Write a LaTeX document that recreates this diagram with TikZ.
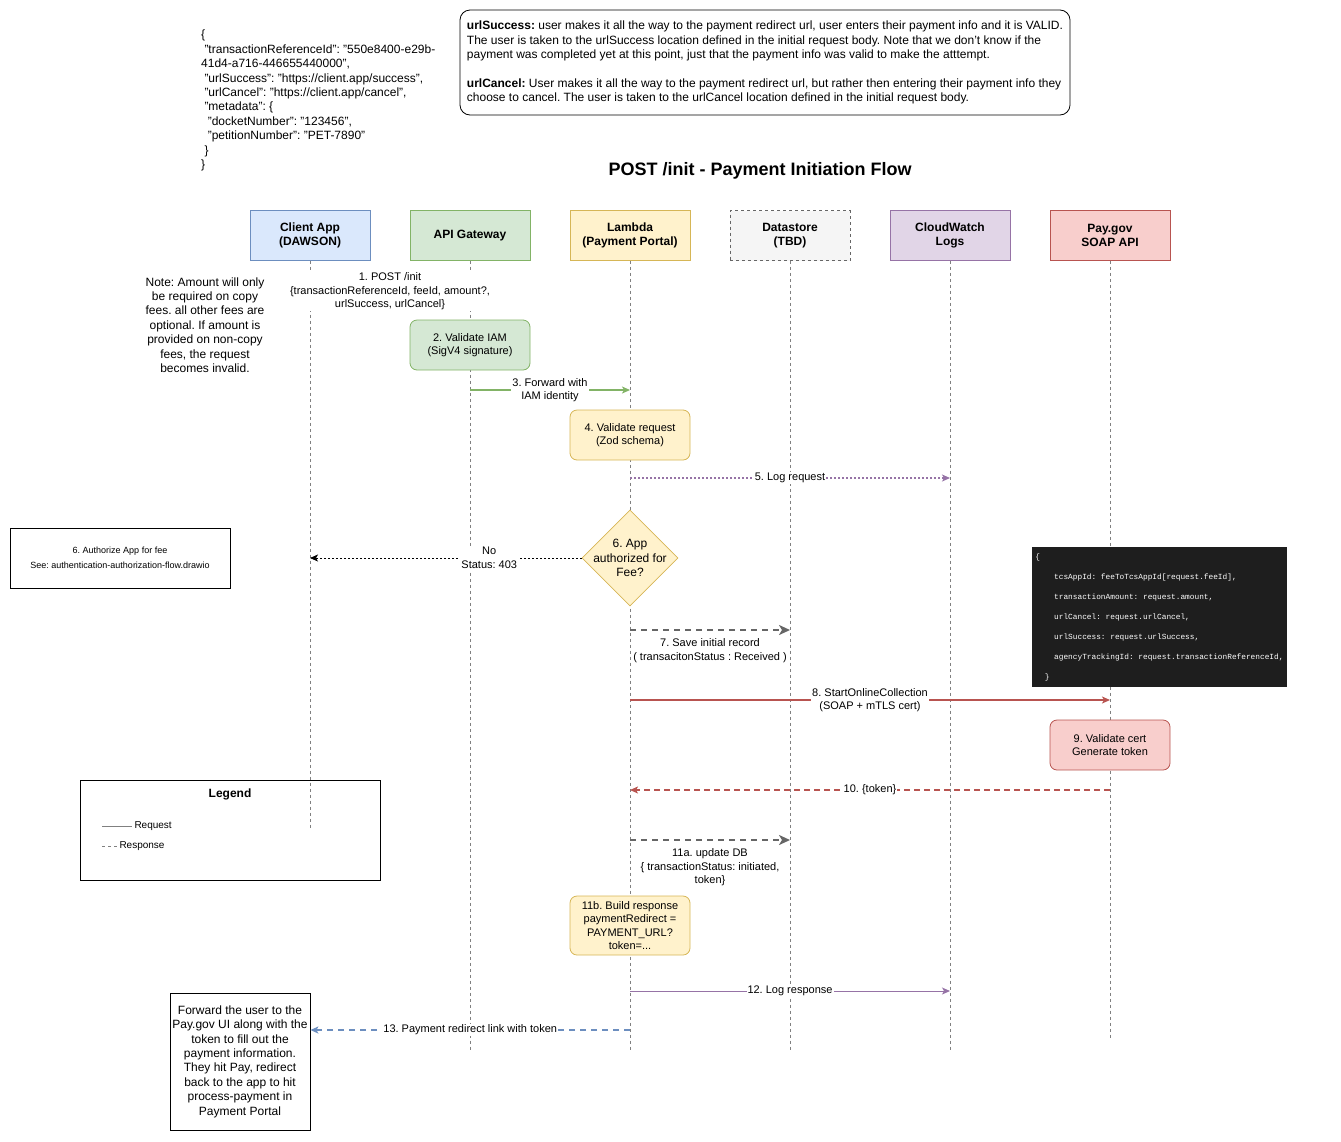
\documentclass[tikz,border=0pt]{standalone}
\usepackage{fontspec}
\setmainfont{Liberation Sans}
\setmonofont{Liberation Mono}
\usepackage{xcolor}
\usetikzlibrary{shapes.geometric,arrows.meta,positioning,calc}

\definecolor{clientF}{HTML}{DAE8FC}
\definecolor{clientD}{HTML}{6C8EBF}
\definecolor{gwF}{HTML}{D5E8D4}
\definecolor{gwD}{HTML}{82B366}
\definecolor{lamF}{HTML}{FFF2CC}
\definecolor{lamD}{HTML}{D6B656}
\definecolor{dbF}{HTML}{F5F5F5}
\definecolor{dbD}{HTML}{666666}
\definecolor{cwF}{HTML}{E1D5E7}
\definecolor{cwD}{HTML}{9673A6}
\definecolor{payF}{HTML}{F8CECC}
\definecolor{payD}{HTML}{B85450}
\definecolor{codeBg}{HTML}{1E1E1E}

\frenchspacing

\begin{document}
\begin{tikzpicture}[x=1pt, y=-1pt, node distance=40pt,
    actor/.style={rectangle, draw, line width=0.8pt, outer sep=0pt, minimum width=120pt, minimum height=50pt, align=center, font=\fontsize{12}{14.4}\selectfont\bfseries},
    actbox/.style={rectangle, draw, line width=0.8pt, rounded corners=7pt, minimum width=120pt, minimum height=50pt, align=center, font=\fontsize{11}{13.5}\selectfont},
    lifeline/.style={draw=gray, line width=0.5pt, dash pattern=on 3pt off 3pt},
    msg/.style={fill=white, inner sep=1pt, align=center, font=\fontsize{11}{13.5}\selectfont},
    note/.style={align=center, font=\fontsize{12}{14.4}\selectfont},
    tip/.style={-{Stealth[length=8pt, width=7pt, inset=2pt]}},
    bigtip/.style={-{Stealth[length=11pt, width=10pt, inset=3pt]}}]

    \useasboundingbox (0,0) rectangle (1341,1141);

    \node[align=left, anchor=north west, inner sep=0pt, font=\fontsize{12}{14.4}\selectfont] (json) at (201,30)
        {\{\\
        \hspace*{3.3pt}"transactionReferenceId": "550e8400-e29b-\\
        41d4-a716-446655440000",\\
        \hspace*{3.3pt}"urlSuccess": "https://client.app/success",\\
        \hspace*{3.3pt}"urlCancel": "https://client.app/cancel",\\
        \hspace*{3.3pt}"metadata": \{\\
        \hspace*{6.6pt}"docketNumber": "123456",\\
        \hspace*{6.6pt}"petitionNumber": "PET-7890"\\
        \hspace*{3.3pt}\}\\
        \}};

    \node[draw, line width=0.8pt, rounded corners=10pt, minimum width=610pt, minimum height=105pt, align=left, font=\fontsize{12}{14.4}\selectfont] (urls) at (765,62.5)
        {\textbf{urlSuccess:} user makes it all the way to the payment redirect url, user enters their payment info and it is VALID.\\
        The user is taken to the urlSuccess location defined in the initial request body. Note that we don't know if the\\
        payment was completed yet at this point, just that the payment info was valid to make the atttempt.\\[14.4pt]
        \textbf{urlCancel:} User makes it all the way to the payment redirect url, but rather then entering their payment info they\\
        choose to cancel. The user is taken to the urlCancel location defined in the initial request body.};

    \node[font=\fontsize{18}{22}\selectfont\bfseries] (title) at (760,171) {POST /init - Payment Initiation Flow};

    \node[actor, fill=clientF, draw=clientD] (client) at (310,235.5) {Client App\\(DAWSON)};
    \node[actor, fill=gwF, draw=gwD, right=of client] (gw) {API Gateway};
    \node[actor, fill=lamF, draw=lamD, right=of gw] (lam) {Lambda\\(Payment Portal)};
    \node[actor, fill=dbF, draw=dbD, dashed, right=of lam] (db) {Datastore\\(TBD)};
    \node[actor, fill=cwF, draw=cwD, right=of db] (cw) {CloudWatch\\Logs};
    \node[actor, fill=payF, draw=payD, right=of cw] (pay) {Pay.gov\\SOAP API};

    \foreach \a/\e in {client/828, gw/1050, lam/1050, db/1050, cw/1050, pay/1040}
        \draw[lifeline] (\a.south) -- ++(0,\e-260.5);

    % side notes
    \node[note] (amount) at (205,325) {Note: Amount will only\\be required on copy\\fees. all other fees are\\optional. If amount is\\provided on non-copy\\fees, the request\\becomes invalid.};
    \node[draw, line width=0.8pt, minimum width=220pt, minimum height=60pt, align=center, font=\fontsize{9}{15}\selectfont] (authz) at (120,558)
        {6. Authorize App for fee\\See: authentication-authorization-flow.drawio};
    \node[fill=codeBg, text=white, minimum width=255pt, minimum height=140pt, inner sep=0pt, align=left, font=\ttfamily\fontsize{7.8}{20}\selectfont] (code) at (1159.5,617)
        {\{\\
        \hspace*{18.7pt}tcsAppId: feeToTcsAppId[request.feeId],\\
        \hspace*{18.7pt}transactionAmount: request.amount,\\
        \hspace*{18.7pt}urlCancel: request.urlCancel,\\
        \hspace*{18.7pt}urlSuccess: request.urlSuccess,\\
        \hspace*{18.7pt}agencyTrackingId: request.transactionReferenceId,\\
        \hspace*{9.4pt}\}};

    % activations
    \node[msg] (m1) at (390,291.5) {1. POST /init\\\{transactionReferenceId, feeId, amount?,\\urlSuccess, urlCancel\}};
    \node[actbox, fill=gwF, draw=gwD] (iam) at (470,345) {2. Validate IAM\\(SigV4 signature)};
    \node[actbox, fill=lamF, draw=lamD] (zod) at (630,435) {4. Validate request\\(Zod schema)};
    \node[diamond, draw=lamD, fill=lamF, line width=0.8pt, minimum width=96pt, minimum height=96pt, inner sep=0pt] (q6) at (630,558) {};
    \node[note, fill=none] (q6t) at (q6) {6. App\\authorized for\\Fee?};
    \node[actbox, fill=payF, draw=payD] (cert) at (1110,745) {9. Validate cert\\Generate token};
    \node[actbox, fill=lamF, draw=lamD, minimum height=59pt] (build) at (630,925.5) {11b. Build response\\paymentRedirect =\\PAYMENT\_URL?\\token=...};
    \node[note, draw, line width=0.8pt, minimum width=140pt, minimum height=137pt, inner sep=0pt] (fwd) at (240,1061.5)
        {Forward the user to the\\Pay.gov UI along with the\\token to fill out the\\payment information.\\They hit Pay, redirect\\back to the app to hit\\process-payment in\\Payment Portal};

    % message end points
    \coordinate (m3s) at (gw |- 0,390);     \coordinate (m3e) at (lam |- 0,390);
    \coordinate (m5s) at (lam |- 0,478);    \coordinate (m5e) at (cw |- 0,478);
    \coordinate (m6e) at (client |- 0,558);
    \coordinate (m7s) at (lam |- 0,630);    \coordinate (m7e) at (db |- 0,630);
    \coordinate (m8s) at (lam |- 0,700);    \coordinate (m8e) at (pay |- 0,700);
    \coordinate (m10s) at (pay |- 0,790);   \coordinate (m10e) at (lam |- 0,790);
    \coordinate (m11s) at (lam |- 0,840);   \coordinate (m11e) at (db |- 0,840);
    \coordinate (m12s) at (lam |- 0,991);   \coordinate (m12e) at (cw |- 0,991);
    \coordinate (m13s) at (lam |- 0,1030);  \coordinate (m13e) at (fwd.east |- 0,1030);

    \draw[tip, draw=gwD, line width=1.5pt] (m3s) -- node[msg] {3. Forward with\\IAM identity} (m3e);
    \draw[tip, draw=cwD, line width=1.2pt, dash pattern=on 2pt off 2pt] (m5s) -- node[msg] {5. Log request} (m5e);
    \draw[tip, black, line width=0.8pt, dash pattern=on 2pt off 2pt] (q6.west) -- node[msg, pos=0.34] {No\\Status: 403} (m6e);
    \draw[bigtip, draw=dbD, line width=2pt, dash pattern=on 6pt off 5pt] (m7s) -- node[msg, fill=none, below=7pt] {7. Save initial record\\( transacitonStatus : Received )} (m7e);
    \draw[tip, draw=payD, line width=1.5pt] (m8s) -- node[msg] {8. StartOnlineCollection\\(SOAP + mTLS cert)} (m8e);
    \draw[tip, draw=payD, line width=1.5pt, dash pattern=on 6pt off 4pt] (m10s) -- node[msg] {10. \{token\}} (m10e);
    \draw[bigtip, draw=dbD, line width=2pt, dash pattern=on 6pt off 5pt] (m11s) -- node[msg, fill=none, below=7pt] {11a. update DB\\\{ transactionStatus: initiated,\\token\}} (m11e);
    \draw[tip, draw=cwD, line width=1pt] (m12s) -- node[msg] {12. Log response} (m12e);
    \draw[tip, draw=clientD, line width=1.5pt, dash pattern=on 6pt off 5pt] (m13s) -- node[msg] {13. Payment redirect link with token} (m13e);

    % legend
    \node[draw, line width=0.8pt, minimum width=300pt, minimum height=100pt] (legend) at (230,830) {};
    \node[font=\fontsize{12}{14}\selectfont\bfseries] (legendt) at (230,794) {Legend};
    \coordinate (lreq) at (102,826);
    \coordinate (lres) at (102,846);
    \draw[gray, line width=1pt] (lreq) -- ++(30,0) node[right, inner sep=2pt, font=\fontsize{10}{12}\selectfont, black] (lreqt) {Request};
    \draw[gray, line width=1pt, dash pattern=on 3pt off 3pt] (lres) -- ++(15,0) node[right, inner sep=2pt, font=\fontsize{10}{12}\selectfont, black] (lrest) {Response};

\end{tikzpicture}
\end{document}
